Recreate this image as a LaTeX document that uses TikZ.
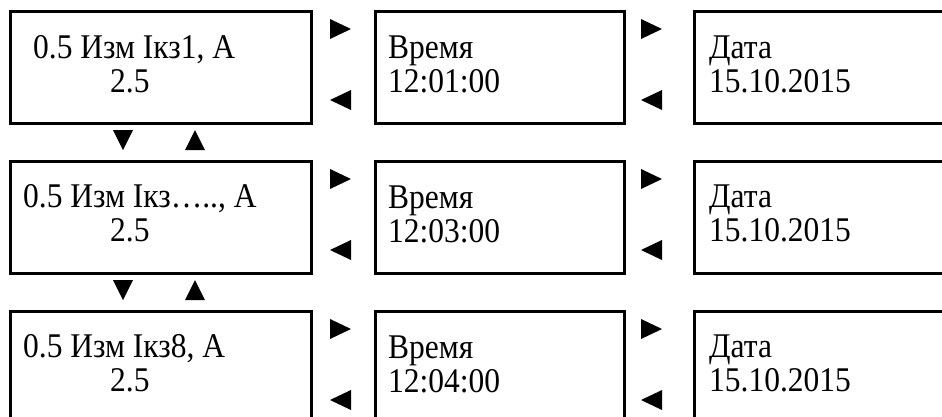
\documentclass[tikz,border=0pt]{standalone}
\usepackage{graphicx}
\usepackage{fontspec}
\setmainfont{Liberation Serif}
\newcommand{\vst}[1]{\scalebox{1}[1.1]{#1}}
\begin{document}
\begin{tikzpicture}[x=1pt,y=-1pt,
  box/.style={draw=black,line width=2.5pt,fill=none,inner sep=0pt,anchor=north west,minimum height=112pt},
  txt/.style={inner sep=0pt,anchor=base west,font=\fontsize{31.5pt}{34pt}\selectfont},
  tri/.style={fill=black,draw=none}]
\useasboundingbox (0,0) rectangle (942,416);
\clip (0,0) rectangle (942,416);
% row 1
\node[box,minimum width=301pt] (b11) at (9,10) {};
\node[box,minimum width=249pt] (b12) at (374,10) {};
\node[box,minimum width=270pt] (b13) at (693,10) {};
\node[txt] (t11) at (33,58) {\vst{0.5 Изм Iкз1, A}};
\node[txt] (u11) at (110,92) {\vst{2.5}};
\node[txt] (t12) at (388,58) {\vst{Время}};
\node[txt] (u12) at (388,92) {\vst{12:01:00}};
\node[txt] (t13) at (709,58) {\vst{Дата}};
\node[txt] (u13) at (709,92) {\vst{15.10.2015}};
% row 2
\node[box,minimum width=301pt] (b21) at (9,160) {};
\node[box,minimum width=249pt] (b22) at (374,160) {};
\node[box,minimum width=270pt] (b23) at (693,160) {};
\node[txt] (t21) at (23,207) {\vst{0.5 Изм Iкз….., A}};
\node[txt] (u21) at (110,241) {\vst{2.5}};
\node[txt] (t22) at (388,208) {\vst{Время}};
\node[txt] (u22) at (388,242) {\vst{12:03:00}};
\node[txt] (t23) at (709,207) {\vst{Дата}};
\node[txt] (u23) at (709,241) {\vst{15.10.2015}};
% row 3
\node[box,minimum width=301pt] (b31) at (9,310) {};
\node[box,minimum width=249pt] (b32) at (374,310) {};
\node[box,minimum width=270pt] (b33) at (693,310) {};
\node[txt] (t31) at (23,357) {\vst{0.5 Изм Iкз8, A}};
\node[txt] (u31) at (110,391) {\vst{2.5}};
\node[txt] (t32) at (388,358) {\vst{Время}};
\node[txt] (u32) at (388,392) {\vst{12:04:00}};
\node[txt] (t33) at (709,357) {\vst{Дата}};
\node[txt] (u33) at (709,391) {\vst{15.10.2015}};
% horizontal triangles
\foreach \top in {10,160,310}{
  \foreach \xa in {330,641}{
    \fill[tri] (\xa,\top+9) -- (\xa+21,\top+19) -- (\xa,\top+29) -- cycle;
    \fill[tri] (\xa+21,\top+80) -- (\xa,\top+90) -- (\xa+21,\top+100) -- cycle;
  }
}
% vertical triangles
\foreach \yt in {130,280}{
  \fill[tri] (113,\yt) -- (133,\yt) -- (123,\yt+20) -- cycle;
  \fill[tri] (185,\yt+20) -- (205,\yt+20) -- (195,\yt) -- cycle;
}
\end{tikzpicture}
\end{document}
